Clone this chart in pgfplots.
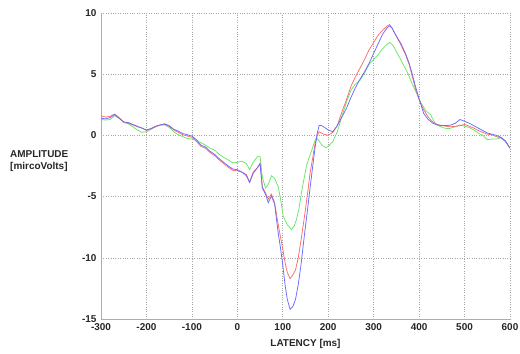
\documentclass[border=0pt]{standalone}
\usepackage{pgfplots}
\pgfplotsset{compat=1.18}
\usepackage{fontspec}
\setmainfont{Liberation Sans}
\definecolor{cred}{RGB}{255,105,105}
\definecolor{cblue}{RGB}{105,105,255}
\definecolor{cgreen}{RGB}{100,232,100}
\begin{document}
\begin{tikzpicture}
\begin{axis}[
  scale only axis, width=409bp, height=306bp,
  xmin=-300, xmax=600, ymin=-15, ymax=10,
  xtick={-300,-200,...,600}, ytick={-15,-10,...,10},
  axis x line=bottom, axis y line=left,
  axis line style={-, draw=gray!65, line width=0.8pt},
  grid=major, grid style={dotted, draw=gray!70, line width=0.6pt},
  major tick length=0pt,
  ticklabel style={font=\bfseries\fontsize{10}{12}\selectfont, text=black!85},
  /pgf/number format/assume math mode=true,
  yticklabel style={xshift=-1bp},
  xticklabel style={yshift=-1bp},
  every axis plot/.append style={line width=0.75pt},
]
\coordinate (ll) at (rel axis cs:0,0);
\coordinate (ur) at (rel axis cs:1,1);
\addplot[cgreen] coordinates {
(-300,1.3)(-290,1.25)(-280,1.3)(-270,1.6)(-260,1.4)(-250,1.05)(-240,0.95)(-230,0.7)(-220,0.45)(-210,0.25)(-200,0.3)(-190,0.5)(-180,0.7)(-170,0.85)(-160,0.85)(-150,0.65)(-140,0.3)(-130,0.05)(-120,-0.1)(-110,-0.25)(-100,-0.3)(-90,-0.4)(-80,-0.6)(-70,-0.8)(-60,-1.05)(-50,-1.2)(-40,-1.55)(-30,-1.8)(-20,-2.0)(-10,-2.25)(0,-2.2)(10,-2.1)(20,-2.3)(27,-2.8)(35,-2.2)(45,-1.7)(50,-1.7)(55,-3.4)(62,-4.3)(68,-4.0)(75,-3.3)(82,-3.5)(90,-4.2)(96,-5.4)(101,-6.6)(110,-7.3)(119,-7.7)(125,-7.4)(130,-6.9)(136,-5.9)(141,-4.7)(147,-3.5)(152,-2.5)(158,-1.8)(163,-1.3)(170,-0.5)(174,-0.2)(180,-0.45)(186,-0.8)(195,-1.0)(200,-0.9)(210,-0.5)(220,0.3)(230,1.55)(240,2.7)(250,3.7)(260,4.2)(270,4.5)(280,5.1)(290,5.8)(300,6.2)(310,6.6)(320,7.1)(330,7.45)(335,7.6)(340,7.45)(345,7.2)(355,6.5)(365,5.8)(375,5.1)(385,4.2)(395,3.4)(405,2.6)(415,2.0)(425,1.7)(435,1.0)(445,0.75)(455,0.6)(465,0.55)(475,0.65)(490,0.85)(500,0.75)(510,0.65)(520,0.45)(530,0.2)(540,0.0)(550,-0.35)(560,-0.3)(570,-0.3)(580,-0.2)(590,-0.5)(600,-1.05)
};
\addplot[cred] coordinates {
(-300,1.6)(-290,1.5)(-280,1.55)(-270,1.75)(-260,1.45)(-250,1.1)(-240,1.0)(-230,0.85)(-220,0.7)(-210,0.6)(-200,0.4)(-190,0.55)(-180,0.7)(-170,0.85)(-160,0.9)(-150,0.75)(-140,0.45)(-130,0.25)(-120,0.05)(-110,-0.05)(-100,-0.15)(-90,-0.5)(-80,-0.9)(-70,-1.05)(-60,-1.4)(-50,-1.65)(-40,-2.0)(-30,-2.3)(-20,-2.6)(-10,-2.85)(0,-2.9)(10,-3.0)(20,-3.2)(27,-3.8)(35,-3.0)(45,-2.6)(50,-2.3)(55,-4.2)(62,-4.7)(68,-5.2)(75,-4.8)(82,-5.5)(90,-7.3)(95,-8.3)(100,-9.3)(105,-10.4)(110,-11.2)(116,-11.7)(122,-11.4)(128,-11.0)(134,-10.0)(140,-8.6)(149,-6.3)(155,-4.6)(160,-3.1)(166,-1.8)(171,-0.7)(176,0.0)(180,0.3)(190,0.1)(200,0.0)(210,0.25)(220,0.8)(230,1.9)(240,2.9)(250,4.0)(260,4.8)(270,5.5)(280,6.2)(290,7.0)(300,7.6)(310,8.2)(320,8.6)(330,8.95)(335,9.05)(340,8.8)(350,8.1)(360,7.4)(370,6.6)(378,5.8)(385,4.8)(392,3.8)(400,2.9)(410,2.1)(420,1.5)(430,1.1)(440,0.9)(450,0.8)(460,0.75)(470,0.7)(480,0.75)(490,0.8)(500,0.9)(510,0.75)(520,0.6)(530,0.4)(540,0.25)(550,0.1)(560,0.05)(570,-0.1)(580,-0.2)(590,-0.5)(600,-1.05)
};
\addplot[cblue] coordinates {
(-300,1.4)(-290,1.35)(-280,1.45)(-270,1.7)(-260,1.4)(-250,1.1)(-240,1.05)(-230,0.9)(-220,0.75)(-210,0.6)(-200,0.45)(-190,0.55)(-180,0.75)(-170,0.85)(-160,0.95)(-150,0.8)(-140,0.5)(-130,0.35)(-120,0.15)(-110,0.05)(-100,-0.05)(-90,-0.35)(-80,-0.8)(-70,-0.95)(-60,-1.3)(-50,-1.55)(-40,-1.9)(-30,-2.2)(-20,-2.5)(-10,-2.75)(0,-2.8)(10,-3.0)(20,-3.3)(27,-3.85)(35,-3.1)(45,-2.6)(50,-2.3)(55,-4.3)(62,-4.8)(68,-5.5)(75,-4.95)(82,-5.6)(90,-8.0)(95,-9.2)(100,-10.6)(105,-12.2)(110,-13.4)(116,-14.2)(122,-14.0)(128,-13.4)(134,-12.2)(140,-10.6)(149,-7.7)(155,-5.9)(160,-4.3)(166,-2.5)(171,-1.0)(176,0.2)(180,0.8)(185,0.8)(190,0.7)(200,0.45)(210,0.3)(220,0.8)(230,1.5)(240,2.2)(250,3.1)(260,3.9)(270,4.6)(280,5.2)(290,5.9)(300,6.7)(310,7.5)(320,8.3)(330,8.8)(335,8.95)(340,8.8)(350,8.1)(360,7.5)(370,6.7)(378,5.9)(385,5.0)(392,4.0)(400,3.0)(410,1.8)(420,1.3)(430,1.0)(440,0.85)(450,0.8)(460,0.8)(470,0.85)(480,1.0)(490,1.3)(500,1.15)(510,1.0)(520,0.8)(530,0.6)(540,0.4)(550,0.2)(560,0.1)(570,0.0)(580,-0.15)(590,-0.45)(600,-1.05)
};
\end{axis}
\pgfresetboundingbox
\path[use as bounding box] ([shift={(-101bp,-35bp)}]ll) rectangle ([shift={(10bp,13bp)}]ur);
\node[anchor=west, align=left, inner sep=0pt, font=\bfseries\fontsize{10}{12.5}\selectfont, text=black!85]
  at ([shift={(-91bp,157.7bp)}]ll) {AMPLITUDE\\{}[mircoVolts]};
\node[anchor=center, inner sep=0pt, font=\bfseries\fontsize{10}{12}\selectfont, text=black!85]
  at ([shift={(204.5bp,-25bp)}]ll) {LATENCY [ms]};
\end{tikzpicture}
\end{document}
